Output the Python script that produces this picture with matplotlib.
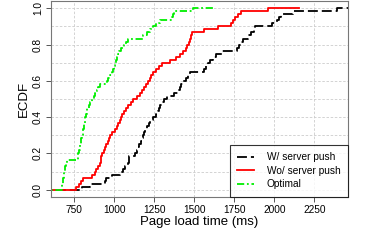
import numpy as np
import matplotlib
matplotlib.use("Agg")
import matplotlib.pyplot as plt

plt.rcParams["font.family"] = ["Liberation Sans", "DejaVu Sans"]

# page load times (ms)
w_push = [800, 848, 945, 950, 984, 1036, 1053, 1070, 1087, 1091,
          1095, 1129, 1140, 1148, 1155, 1164, 1172, 1181, 1188, 1195,
          1202, 1214, 1226, 1240, 1259, 1276, 1281, 1287, 1298, 1309,
          1330, 1375, 1400, 1409, 1418, 1431, 1445, 1458, 1471, 1560,
          1574, 1586, 1598, 1618, 1638, 1670, 1766, 1781, 1791, 1803,
          1834, 1854, 1872, 1882, 1986, 2014, 2026, 2040, 2115, 2390]
wo_push = [760, 777, 792, 804, 860, 879, 888, 899, 910, 915,
           920, 926, 935, 943, 951, 958, 965, 976, 987, 1006,
           1015, 1024, 1033, 1041, 1050, 1059, 1073, 1087, 1103, 1119,
           1141, 1163, 1175, 1186, 1197, 1209, 1221, 1232, 1244, 1262,
           1280, 1298, 1350, 1388, 1410, 1428, 1446, 1457, 1464, 1472,
           1479, 1485, 1562, 1650, 1728, 1743, 1756, 1772, 1790, 1963]
optimal = [672, 675, 679, 682, 686, 689, 692, 695, 698, 702,
           772, 776, 780, 784, 787, 791, 795, 798, 802, 805,
           809, 813, 816, 820, 824, 827, 831, 841, 851, 861,
           871, 881, 891, 900, 910, 955, 963, 975, 985, 993,
           1001, 1006, 1012, 1018, 1023, 1028, 1045, 1058, 1072, 1087,
           1180, 1202, 1225, 1244, 1262, 1285, 1362, 1367, 1373, 1494]

labels = ["W/ server push", "Wo/ server push", "Optimal"]
x_ticks = [750, 1000, 1250, 1500, 1750, 2000, 2250]
y_ticks = [0.0, 0.2, 0.4, 0.6, 0.8, 1.0]


def ecdf_xy(samples, ext=0.16):
    s = np.sort(np.asarray(samples, dtype=float))
    pad = ext * (s[-1] - s[0])
    x = np.concatenate([[s[0] - pad], s, [s[-1] + pad]])
    y = np.concatenate([[0.0], np.arange(1, len(s) + 1) / len(s), [1.0]])
    return x, y


fig = plt.figure(figsize=(3.74, 2.49), dpi=100)
ax = fig.add_axes([0.1356, 0.2088, 0.7949, 0.7872])

# grid
for gx in x_ticks:
    ax.axvline(gx, color="#cccccc", lw=0.6, ls=(0, (3, 2)), zorder=0)
for gy in np.arange(0, 1.01, 0.1):
    ax.axhline(gy, color="#cccccc", lw=0.6, ls=(0, (3, 2)), zorder=0)

styles = [
    dict(color="black", ls=(0, (5.5, 2.2))),
    dict(color="#ff0000", ls="-"),
    dict(color="#00ee00", ls=(0, (4, 1.5, 1, 1.5))),
]
for data, lab, st in zip([w_push, wo_push, optimal], labels, styles):
    x, y = ecdf_xy(data)
    ax.step(x, y, where="post", lw=1.3, label=lab, **st)

ax.set_xlim(603, 2460)
ax.set_ylim(-0.04, 1.04)
ax.set_xticks(x_ticks)
ax.set_yticks(y_ticks)
ax.set_yticklabels([f"{v:.1f}" for v in y_ticks], rotation=90, va="center")
ax.tick_params(labelsize=7.3, length=3.6, width=0.7, color="#555555", pad=2)
for sp in ax.spines.values():
    sp.set_color("#777777")
    sp.set_linewidth(0.8)

ax.set_xlabel("Page load time (ms)", fontsize=9.5, labelpad=1)
ax.set_ylabel("ECDF", fontsize=9.5, labelpad=2)

leg = ax.legend(loc="lower right", fontsize=7.3, frameon=True, fancybox=False,
                borderaxespad=0, handlelength=1.7, handletextpad=1.2,
                labelspacing=0.35, borderpad=0.75)
leg.get_frame().set_edgecolor("black")
leg.get_frame().set_linewidth(0.8)

fig.savefig("out.png", dpi=100)
